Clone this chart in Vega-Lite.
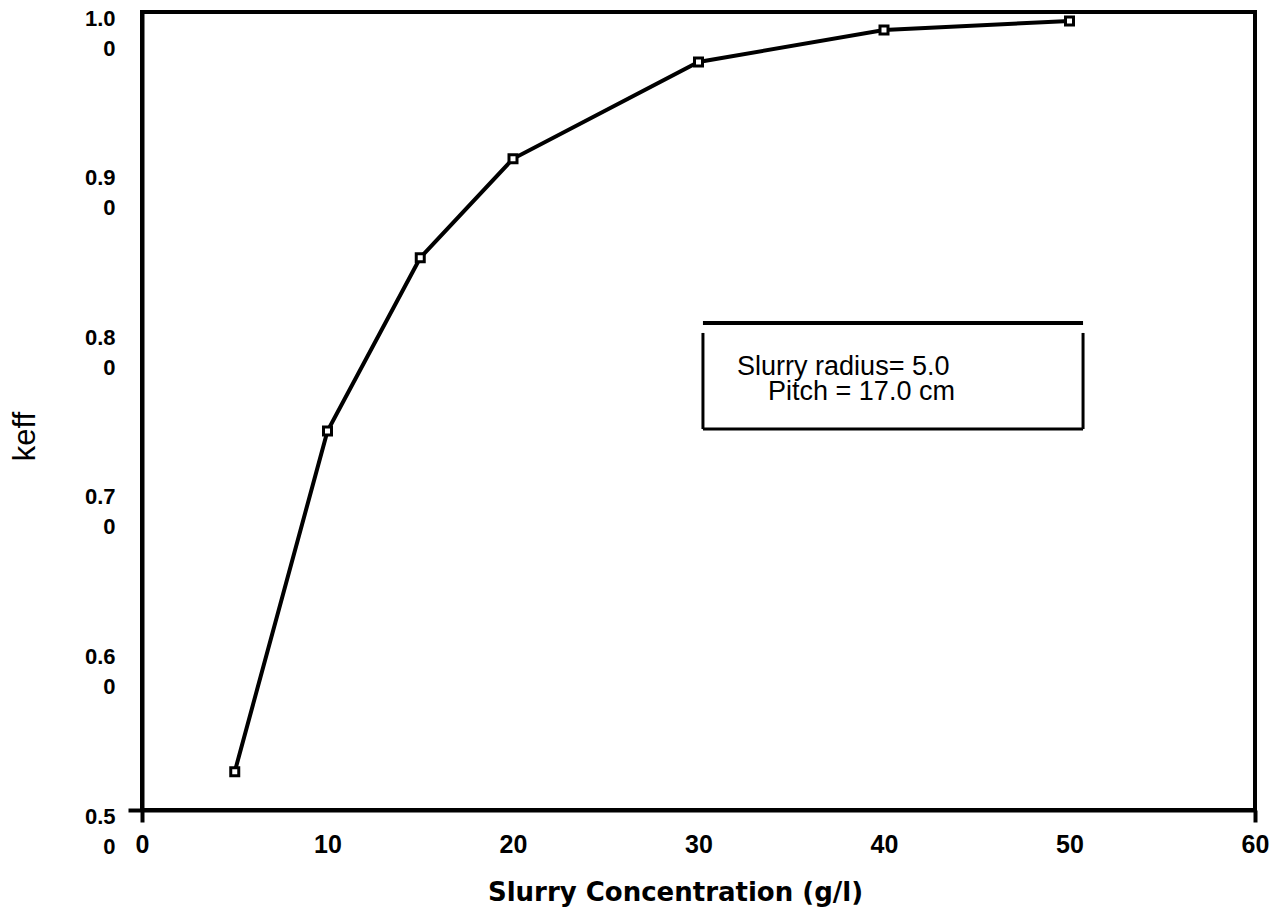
{
  "$schema": "https://vega.github.io/schema/vega-lite/v6.json",
  "width": 1113,
  "height": 798,
  "autosize": {"type": "none"},
  "padding": {"left": 142, "top": 12, "right": 26, "bottom": 106},
  "background": "white",
  "config": {
    "view": {"stroke": "black", "strokeWidth": 4},
    "font": "Liberation Sans"
  },
  "data": {
    "values": [
      {"conc": 5, "keff": 0.524},
      {"conc": 10, "keff": 0.7375},
      {"conc": 15, "keff": 0.846},
      {"conc": 20, "keff": 0.908},
      {"conc": 30, "keff": 0.9687},
      {"conc": 40, "keff": 0.9887},
      {"conc": 50, "keff": 0.9944}
    ]
  },
  "layer": [
    {
      "mark": {"type": "line", "color": "black", "strokeWidth": 4},
      "encoding": {
        "x": {
          "field": "conc", "type": "quantitative",
          "scale": {"domain": [0, 60], "nice": false, "zero": false},
          "axis": {
            "values": [0, 10, 20, 30, 40, 50, 60],
            "title": "Slurry Concentration (g/l)",
            "titleFont": "DejaVu Sans", "titleFontSize": 26, "titleFontWeight": "bold", "titleColor": "black",
            "titleX": 533, "titleY": 90, "titleBaseline": "alphabetic", "titleAlign": "center",
            "labelFont": "Liberation Sans", "labelFontSize": 25, "labelFontWeight": "bold", "labelColor": "black",
            "labelPadding": 30, "labelBaseline": "alphabetic", "labelFlush": false, "labelOverlap": false,
            "domainColor": "black", "domainWidth": 4,
            "grid": false,
            "tickSize": 12, "tickWidth": 4, "tickColor": "black",
            "tickOpacity": {"condition": {"test": "datum.value == 0 || datum.value == 60", "value": 1}, "value": 0}
          }
        },
        "y": {
          "field": "keff", "type": "quantitative",
          "scale": {"domain": [0.5, 1.0], "nice": false, "zero": false},
          "axis": {
            "values": [0.5, 0.6, 0.7, 0.8, 0.9, 1.0],
            "labelExpr": "[format(datum.value, '.1f'), '0']",
            "title": "keff",
            "titleFont": "Liberation Sans", "titleFontSize": 31, "titleFontWeight": "normal", "titleColor": "black",
            "titleAngle": -90, "titleX": -117, "titleY": 424, "titleAlign": "center", "titleBaseline": "middle",
            "labelFont": "Liberation Sans", "labelFontSize": 22, "labelFontWeight": "bold", "labelColor": "black",
            "labelPadding": 13, "labelBaseline": "top", "labelOffset": -4, "labelLineHeight": 30,
            "labelFlush": false, "labelOverlap": false,
            "domainColor": "black", "domainWidth": 4,
            "grid": false,
            "tickSize": 14, "tickWidth": 4, "tickColor": "black",
            "tickOpacity": {"condition": {"test": "datum.value == 0.5", "value": 1}, "value": 0}
          }
        }
      }
    },
    {
      "mark": {"type": "point", "shape": "square", "size": 64, "filled": false, "fill": "white", "stroke": "black", "strokeWidth": 3, "opacity": 1},
      "encoding": {
        "x": {"field": "conc", "type": "quantitative"},
        "y": {"field": "keff", "type": "quantitative"}
      }
    },
    {
      "data": {"values": [{}]},
      "mark": {"type": "rule", "color": "black", "strokeWidth": 4},
      "encoding": {
        "x": {"datum": 30.24, "type": "quantitative"},
        "x2": {"datum": 50.73},
        "y": {"datum": 0.8051, "type": "quantitative"}
      }
    },
    {
      "data": {"values": [{}]},
      "mark": {"type": "rule", "color": "black", "strokeWidth": 3},
      "encoding": {
        "x": {"datum": 30.24, "type": "quantitative"},
        "y": {"datum": 0.7989, "type": "quantitative"},
        "y2": {"datum": 0.7387}
      }
    },
    {
      "data": {"values": [{}]},
      "mark": {"type": "rule", "color": "black", "strokeWidth": 3},
      "encoding": {
        "x": {"datum": 50.73, "type": "quantitative"},
        "y": {"datum": 0.7989, "type": "quantitative"},
        "y2": {"datum": 0.7387}
      }
    },
    {
      "data": {"values": [{}]},
      "mark": {"type": "rule", "color": "black", "strokeWidth": 3},
      "encoding": {
        "x": {"datum": 30.24, "type": "quantitative"},
        "x2": {"datum": 50.73},
        "y": {"datum": 0.7387, "type": "quantitative"}
      }
    },
    {
      "data": {"values": [{"label": "Slurry radius= 5.0"}]},
      "mark": {"type": "text", "font": "Liberation Sans", "fontSize": 27, "color": "black", "align": "left", "baseline": "alphabetic"},
      "encoding": {
        "x": {"datum": 32.08, "type": "quantitative"},
        "y": {"datum": 0.7726, "type": "quantitative"},
        "text": {"field": "label"}
      }
    },
    {
      "data": {"values": [{"label": "Pitch = 17.0 cm"}]},
      "mark": {"type": "text", "font": "Liberation Sans", "fontSize": 27, "color": "black", "align": "left", "baseline": "alphabetic"},
      "encoding": {
        "x": {"datum": 33.75, "type": "quantitative"},
        "y": {"datum": 0.7569, "type": "quantitative"},
        "text": {"field": "label"}
      }
    }
  ]
}
